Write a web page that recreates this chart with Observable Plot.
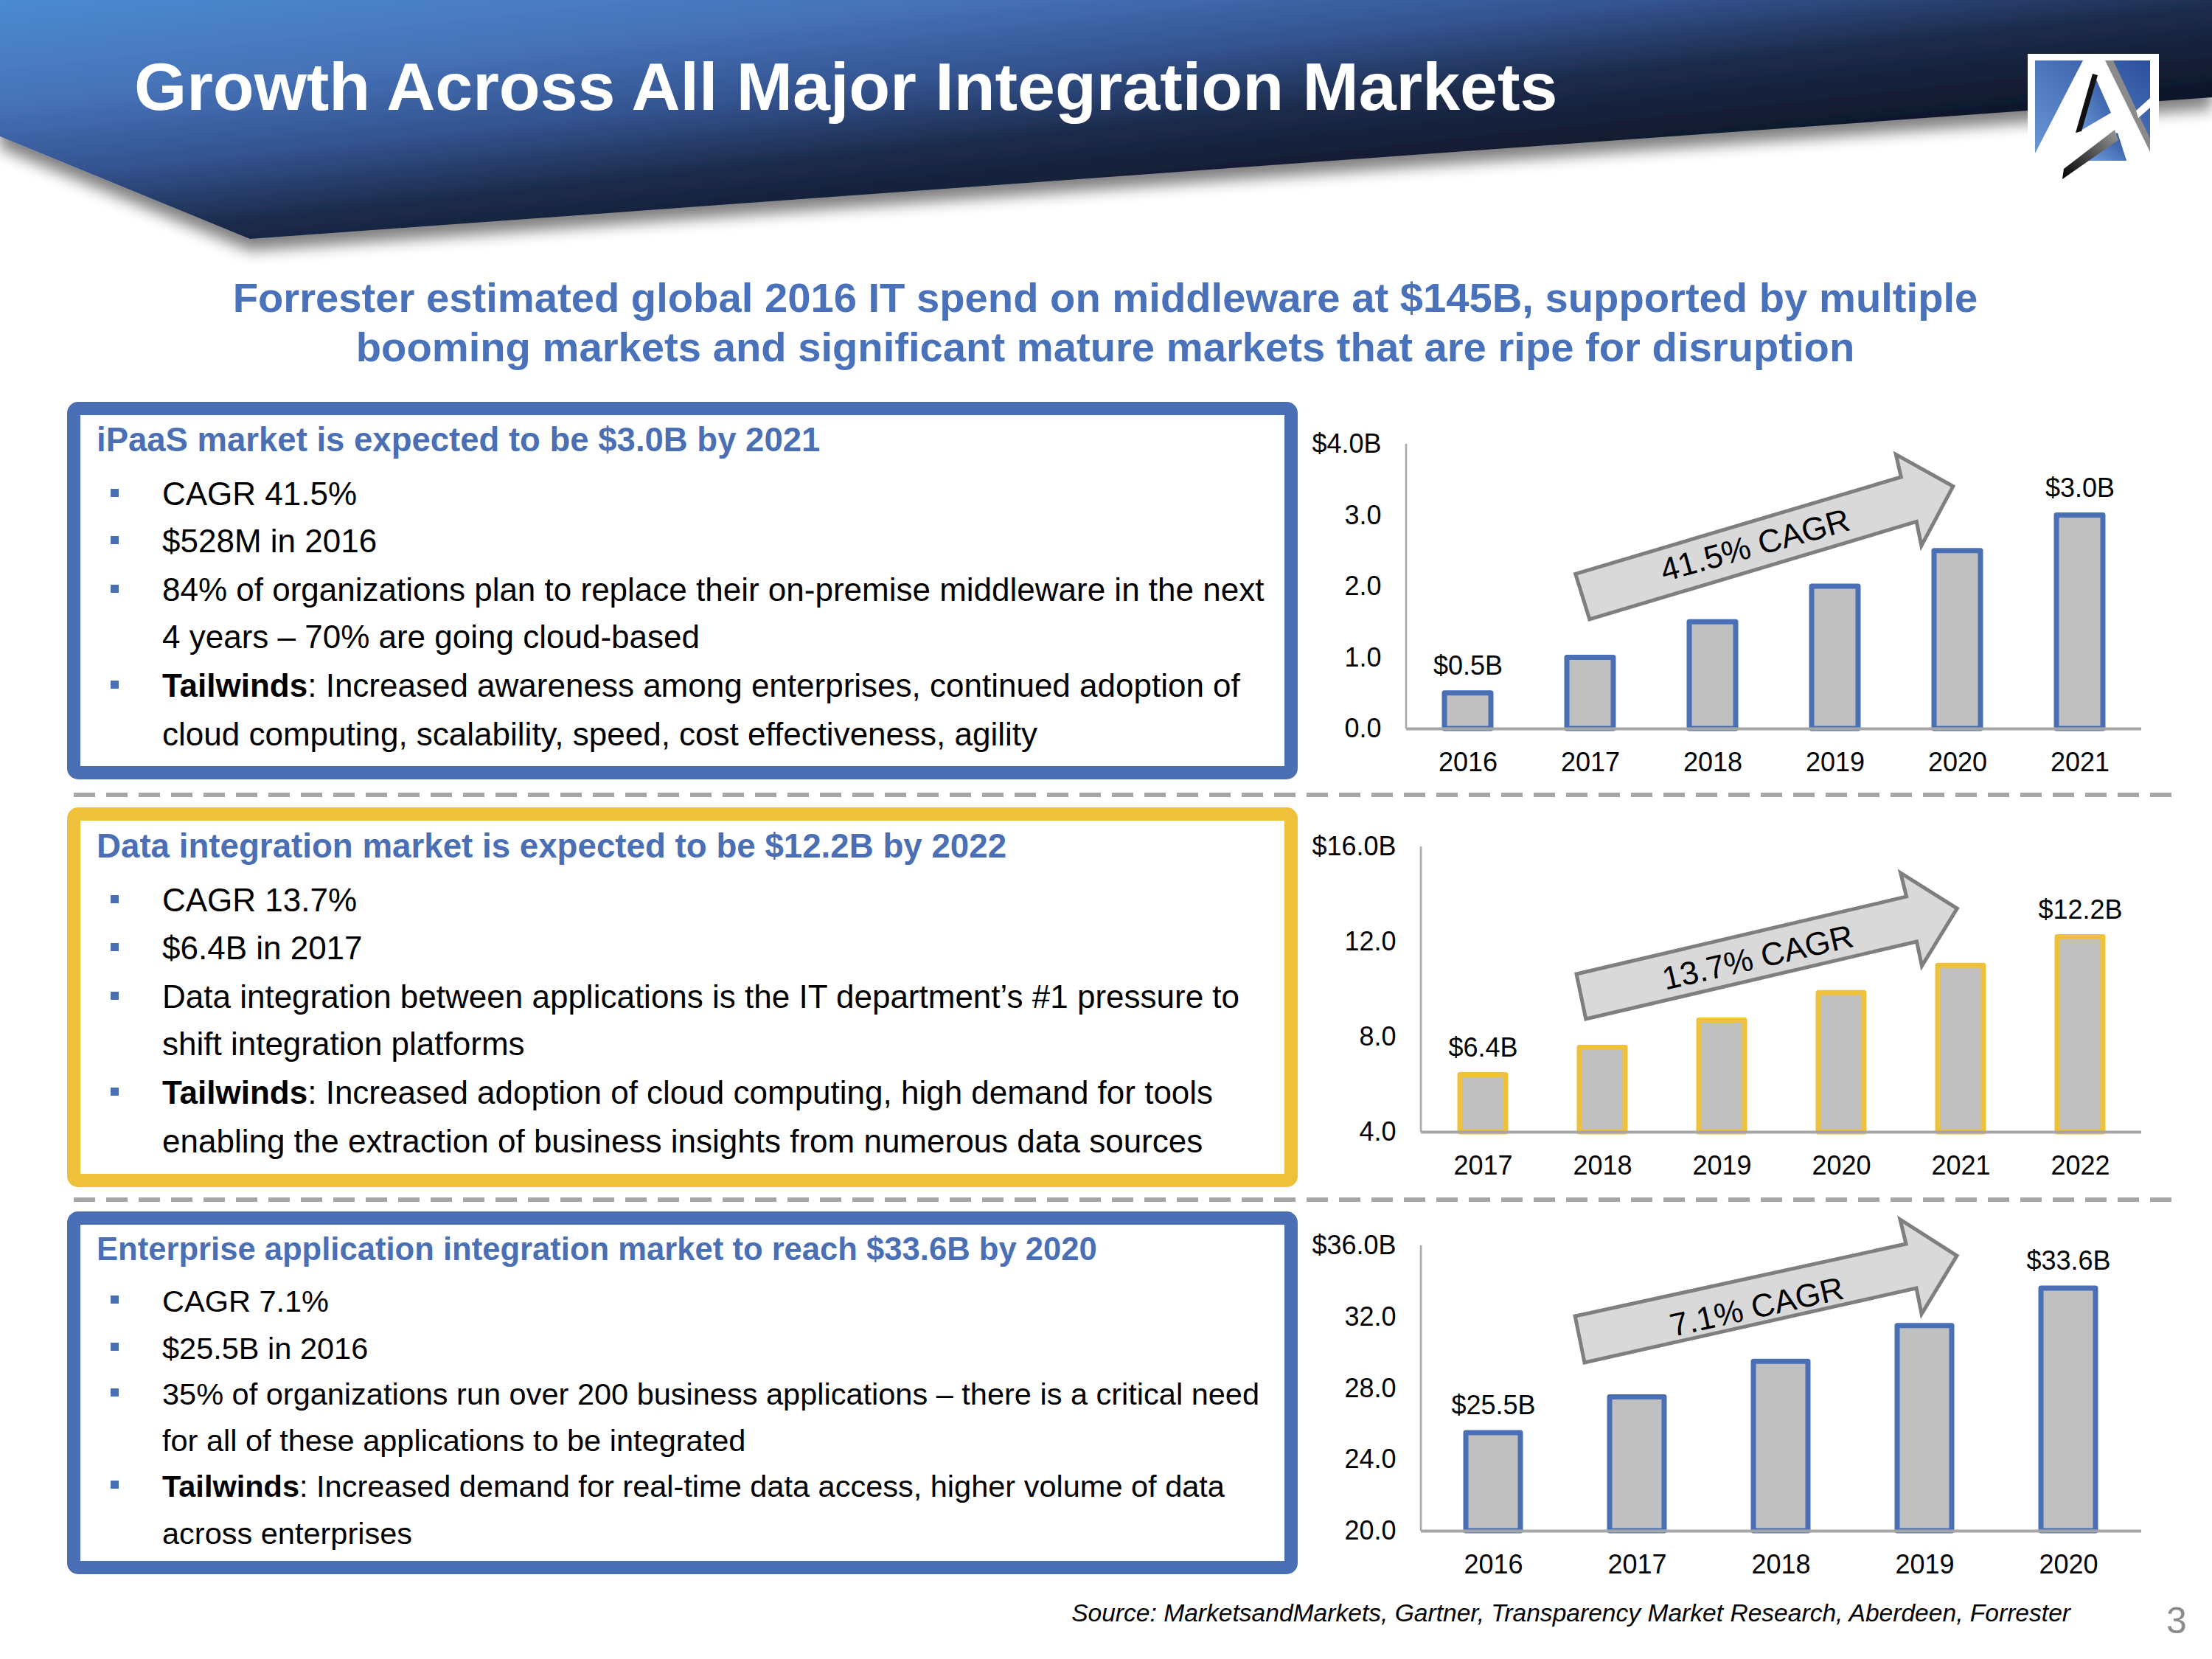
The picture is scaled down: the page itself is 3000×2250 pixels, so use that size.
<!DOCTYPE html>
<html>
<head>
<meta charset="utf-8">
<script src="https://cdn.jsdelivr.net/npm/d3@7"></script>
<script src="https://cdn.jsdelivr.net/npm/@observablehq/plot@0.6"></script>
<style>
  html, body { margin: 0; padding: 0; background: #fff; }
  #page { position: relative; width: 3000px; height: 2250px; overflow: hidden; background: #fff;
          font-family: "Liberation Sans", Arial, Helvetica, sans-serif; }
  #bg { position: absolute; left: 0; top: 0; }
  .chart { position: absolute; }
</style>
</head>
<body>
<div id="page"></div>
<script>
// ---------- chart data ----------
const ipaasYears  = ["2016", "2017", "2018", "2019", "2020", "2021"];
const ipaasValues = [0.5, 1.0, 1.5, 2.0, 2.5, 3.0];
const ipaasTicks  = [0, 1, 2, 3, 4];

const dataIntYears  = ["2017", "2018", "2019", "2020", "2021", "2022"];
const dataIntValues = [6.4, 7.55, 8.7, 9.85, 11.0, 12.2];
const dataIntTicks  = [4, 8, 12, 16];

const eaiYears  = ["2016", "2017", "2018", "2019", "2020"];
const eaiValues = [25.5, 27.5, 29.5, 31.5, 33.6];
const eaiTicks  = [20, 24, 28, 32, 36];

const cagrLabels = ["41.5% CAGR", "13.7% CAGR", "7.1% CAGR"];

// ---------- slide text ----------
const titleText = "Growth Across All Major Integration Markets";
const subtitleLines = [
  "Forrester estimated global 2016 IT spend on middleware at $145B, supported by multiple",
  "booming markets and significant mature markets that are ripe for disruption"
];
const boxTitles = [
  "iPaaS market is expected to be $3.0B by 2021",
  "Data integration market is expected to be $12.2B by 2022",
  "Enterprise application integration market to reach $33.6B by 2020"
];
const boxBullets = [
  [
    [["", "CAGR 41.5%"]],
    [["", "$528M in 2016"]],
    [["", "84% of organizations plan to replace their on-premise middleware in the next"], ["", "4 years \u2013 70% are going cloud-based"]],
    [["Tailwinds", ": Increased awareness among enterprises, continued adoption of"], ["", "cloud computing, scalability, speed, cost effectiveness, agility"]]
  ],
  [
    [["", "CAGR 13.7%"]],
    [["", "$6.4B in 2017"]],
    [["", "Data integration between applications is the IT department\u2019s #1 pressure to"], ["", "shift integration platforms"]],
    [["Tailwinds", ": Increased adoption of cloud computing, high demand for tools"], ["", "enabling the extraction of business insights from numerous data sources"]]
  ],
  [
    [["", "CAGR 7.1%"]],
    [["", "$25.5B in 2016"]],
    [["", "35% of organizations run over 200 business applications \u2013 there is a critical need"], ["", "for all of these applications to be integrated"]],
    [["Tailwinds", ": Increased demand for real-time data access, higher volume of data"], ["", "across enterprises"]]
  ]
];
const sourceText = "Source: MarketsandMarkets, Gartner, Transparency Market Research, Aberdeen, Forrester";
const pageNumber = "3";

// ---------- styles / layout ----------
const FONT = '"Liberation Sans", Arial, Helvetica, sans-serif';
const BLUE = "#4a6fb4";
const YELLOW = "#efc03a";
const boxColors = [BLUE, YELLOW, BLUE];
const boxOuter = [[91, 545, 1760, 1057], [91, 1095, 1760, 1610], [91, 1643, 1760, 2135]];
const boxTitleBase = [612, 1163, 1709];
const boxTitleSize = [45.5, 45.7, 43.6];
const boxTextSize = [44, 44, 41.5];
const boxLineBase = [
  [[685], [749], [815, 879], [945, 1011]],
  [[1236], [1301], [1367, 1431], [1497, 1563]],
  [[1779], [1843], [1905, 1968], [2030, 2094]]
];

const page = d3.select("#page");
const bg = page.append("svg").attr("id", "bg").attr("width", 3000).attr("height", 2250)
  .attr("font-family", FONT);
const defs = bg.append("defs");
const bgrad = defs.append("linearGradient").attr("id", "bannerGrad")
  .attr("x1", 0).attr("y1", 0).attr("x2", 1).attr("y2", 1);
[[0, "#4b8bd0"], [0.22, "#4672b8"], [0.38, "#33538f"], [0.52, "#1c2b4b"], [0.7, "#0e1628"], [1, "#080c16"]]
  .forEach(([o, c]) => bgrad.append("stop").attr("offset", o).attr("stop-color", c));
const lgrad = defs.append("linearGradient").attr("id", "logoGrad")
  .attr("x1", 0).attr("y1", 1).attr("x2", 1).attr("y2", 0);
[[0, "#6c9ad8"], [1, "#2c4f9c"]].forEach(([o, c]) => lgrad.append("stop").attr("offset", o).attr("stop-color", c));
const kgrad = defs.append("linearGradient").attr("id", "blackGrad")
  .attr("x1", 0).attr("y1", 1).attr("x2", 1).attr("y2", 0);
[[0, "#000"], [1, "#9a9a9a"]].forEach(([o, c]) => kgrad.append("stop").attr("offset", o).attr("stop-color", c));
const filt = defs.append("filter").attr("id", "shadow").attr("x", "-5%").attr("y", "-20%").attr("width", "110%").attr("height", "160%");
filt.append("feGaussianBlur").attr("in", "SourceAlpha").attr("stdDeviation", 10).attr("result", "b");
filt.append("feOffset").attr("in", "b").attr("dx", 0).attr("dy", 16).attr("result", "o");
filt.append("feComponentTransfer").attr("in", "o").attr("result", "t")
  .append("feFuncA").attr("type", "linear").attr("slope", 0.5);
const fm = filt.append("feMerge");
fm.append("feMergeNode").attr("in", "t");
fm.append("feMergeNode").attr("in", "SourceGraphic");

// banner
bg.append("polygon").attr("points", "0,0 3000,0 3000,132 339,324 0,185")
  .attr("fill", "url(#bannerGrad)").attr("filter", "url(#shadow)");
bg.append("text").attr("x", 182).attr("y", 149).attr("font-size", 91.5).attr("font-weight", "bold")
  .attr("fill", "#fff").text(titleText);

// logo
const logo = bg.append("g");
logo.append("rect").attr("x", 2750).attr("y", 73).attr("width", 178).attr("height", 152).attr("fill", "#fff");
logo.append("rect").attr("x", 2760).attr("y", 82).attr("width", 156).attr("height", 136).attr("fill", "url(#logoGrad)");
logo.append("polygon").attr("points", "2825,82 2862,82 2916,205 2916,218 2884,218 2871,180 2800,238 2760,218 2760,208").attr("fill", "#fff");
logo.append("polygon").attr("points", "2840,101 2863,153 2817,180").attr("fill", "url(#logoGrad)");
logo.append("polygon").attr("points", "2815,180 2838,100 2845,102 2823,178").attr("fill", "#111");
logo.append("polygon").attr("points", "2834,218 2884,218 2872,180").attr("fill", "url(#logoGrad)");
logo.append("polygon").attr("points", "2797,243 2799,229 2868,176 2873,190").attr("fill", "url(#blackGrad)");
logo.append("polygon").attr("points", "2855,82 2866,82 2916,188 2916,206").attr("fill", "#8a8a8a");
logo.append("polygon").attr("points", "2897,150 2916,133 2916,146 2900,160").attr("fill", "#fff");

// subtitle
subtitleLines.forEach((t, i) => {
  bg.append("text").attr("x", 1499).attr("y", 423 + i * 67).attr("text-anchor", "middle")
    .attr("font-size", 56.2).attr("font-weight", "bold").attr("fill", "#4a72ba").text(t);
});

// boxes
boxOuter.forEach(([x1, y1, x2, y2], b) => {
  const bw = 18;
  bg.append("rect").attr("x", x1 + bw / 2).attr("y", y1 + bw / 2)
    .attr("width", x2 - x1 - bw).attr("height", y2 - y1 - bw).attr("rx", 6)
    .attr("fill", "#fff").attr("stroke", boxColors[b]).attr("stroke-width", bw);
  bg.append("text").attr("x", 131).attr("y", boxTitleBase[b]).attr("font-size", boxTitleSize[b])
    .attr("font-weight", "bold").attr("fill", BLUE).text(boxTitles[b]);
  boxBullets[b].forEach((lines, k) => {
    const bases = boxLineBase[b][k];
    bg.append("rect").attr("x", 150).attr("y", bases[0] - 22).attr("width", 11).attr("height", 11).attr("fill", BLUE);
    lines.forEach(([boldPart, rest], j) => {
      const t = bg.append("text").attr("x", 220).attr("y", bases[j]).attr("font-size", boxTextSize[b]).attr("fill", "#000");
      if (boldPart) t.append("tspan").attr("font-weight", "bold").text(boldPart);
      t.append("tspan").text(rest);
    });
  });
});

// dashed separators
[1078, 1627].forEach(y => {
  bg.append("line").attr("x1", 100).attr("x2", 2946).attr("y1", y).attr("y2", y)
    .attr("stroke", "#a6a6a6").attr("stroke-width", 6).attr("stroke-dasharray", "29 15");
});

// source + page number
bg.append("text").attr("x", 2808).attr("y", 2199).attr("text-anchor", "end").attr("font-size", 33.6)
  .attr("font-style", "italic").attr("fill", "#000").text(sourceText);
bg.append("text").attr("x", 2952).attr("y", 2215).attr("text-anchor", "middle").attr("font-size", 50)
  .attr("fill", "#8c8c8c").text(pageNumber);

// ---------- charts ----------
function decor(years, arrowPts, textPt, angle, label) {
  return (index, scales, values, dims) => {
    const x = scales.x, y = scales.y;
    const bw = typeof x.bandwidth === "function" ? x.bandwidth() : (x.bandwidth || 0);
    const c0 = x(years[0]) + bw / 2;
    const step = x(years[1]) - x(years[0]);
    const px = u => c0 + u * step;
    const g = d3.create("svg:g");
    g.append("line").attr("x1", dims.marginLeft).attr("x2", dims.marginLeft)
      .attr("y1", dims.marginTop).attr("y2", dims.height - dims.marginBottom)
      .attr("stroke", "#a6a6a6").attr("stroke-width", 2.5);
    g.append("polygon").attr("points", arrowPts.map(([u, v]) => `${px(u)},${y(v)}`).join(" "))
      .attr("fill", "#d9d9d9").attr("stroke", "#7f7f7f").attr("stroke-width", 5);
    g.append("text").attr("transform", `translate(${px(textPt[0])},${y(textPt[1])}) rotate(${angle})`)
      .attr("text-anchor", "middle").attr("dy", "0.35em").attr("font-size", 44).attr("fill", "#000")
      .text(label);
    return g.node();
  };
}

function chart(cfg) {
  const {years, values, ticks, color, label, arrow, textPt, angle, left, top, width, height, mL, mT, mB, mR} = cfg;
  const data = years.map((year, i) => ({year, value: values[i]}));
  const ymin = ticks[0], ymax = ticks[ticks.length - 1];
  const ends = [data[0], data[data.length - 1]];
  const plot = Plot.plot({
    width, height,
    marginLeft: mL, marginRight: mR, marginTop: mT, marginBottom: mB,
    style: {background: "transparent", fontFamily: FONT, fontSize: "36px", color: "#000", overflow: "visible"},
    x: {domain: years, paddingInner: 0.62, paddingOuter: 0.31, label: null},
    y: {domain: [ymin, ymax], label: null},
    marks: [
      Plot.barY(data, {x: "year", y1: ymin, y2: "value", fill: "#bfbfbf", stroke: color, strokeWidth: 7, strokeLinejoin: "round"}),
      Plot.ruleY([ymin], {stroke: "#a6a6a6", strokeWidth: 4}),
      decor(years, arrow, textPt, angle, label),
      Plot.text(ends, {x: "year", y: "value", text: d => `$${d.value.toFixed(1)}B`, dy: -37, fontSize: 36, fill: "#000"}),
      Plot.axisX({tickSize: 0, tickPadding: 32, fontSize: 36, label: null, fill: "#000"}),
      Plot.axisY(ticks, {tickSize: 0, tickPadding: 34, fontSize: 36, label: null, fill: "#000",
        tickFormat: d => d === ymax ? `$${d.toFixed(1)}B` : d.toFixed(1)})
    ]
  });
  const holder = page.append("div").attr("class", "chart").style("left", left + "px").style("top", top + "px");
  holder.node().appendChild(plot);
}

chart({
  years: ipaasYears, values: ipaasValues, ticks: ipaasTicks, color: BLUE, label: cagrLabels[0],
  arrow: [[0.881, 2.172], [3.541, 3.534], [3.499, 3.851], [3.966, 3.403], [3.707, 2.569], [3.667, 2.907], [0.996, 1.534]],
  textPt: [2.347, 2.581], angle: -15.5,
  left: 1770, top: 560, width: 1200, height: 530, mL: 137, mT: 42, mB: 102, mR: 66
});
chart({
  years: dataIntYears, values: dataIntValues, ticks: dataIntTicks, color: YELLOW, label: cagrLabels[1],
  arrow: [[0.784, 10.636], [3.547, 13.891], [3.498, 14.884], [3.971, 13.395], [3.676, 10.977], [3.633, 12.0], [0.863, 8.744]],
  textPt: [2.301, 11.349], angle: -13,
  left: 1770, top: 1106, width: 1200, height: 530, mL: 157, mT: 42, mB: 101, mR: 66
});
chart({
  years: eaiYears, values: eaiValues, ticks: eaiTicks, color: BLUE, label: cagrLabels[2],
  arrow: [[0.570, 32.03], [2.872, 36.08], [2.831, 37.45], [3.226, 35.42], [2.980, 32.15], [2.944, 33.60], [0.636, 29.43]],
  textPt: [1.833, 32.57], angle: -12.5,
  left: 1770, top: 1647, width: 1200, height: 520, mL: 157, mT: 42, mB: 91, mR: 66
});
</script>
</body>
</html>
